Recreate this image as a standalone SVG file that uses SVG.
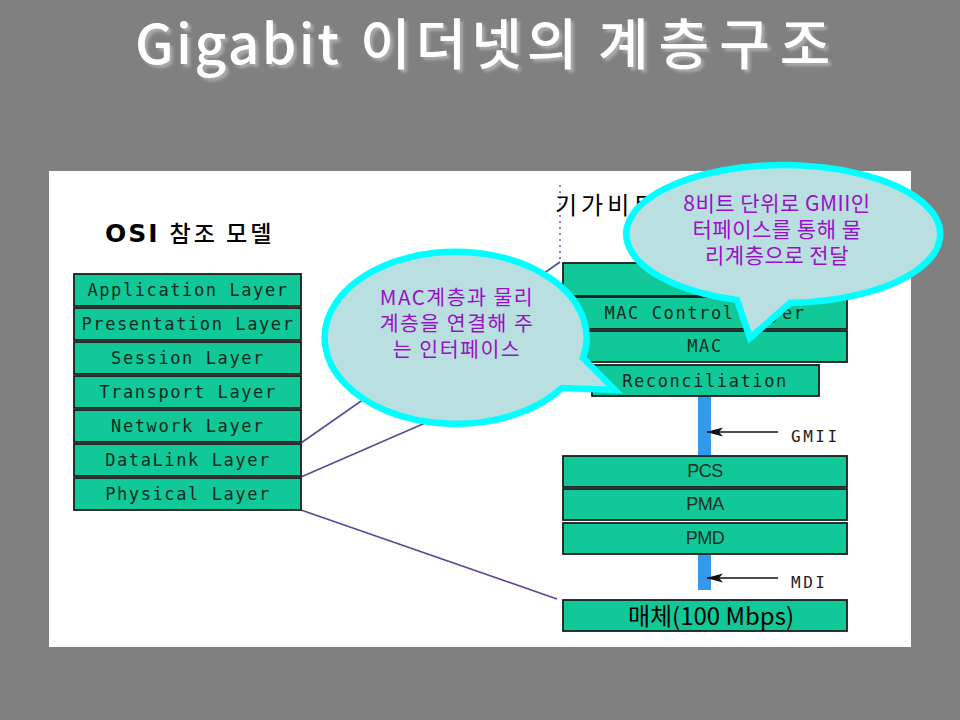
<svg xmlns="http://www.w3.org/2000/svg" width="960" height="720" viewBox="0 0 960 720">
<defs>
<style>
.box{fill:#10c898;stroke:#1c1c1c;stroke-width:1.8}
.lt{font-family:"DejaVu Sans Mono","Liberation Mono",monospace;font-size:17px;fill:#0b2a20;letter-spacing:1.6px;text-anchor:middle}
.pt{font-family:"Liberation Sans",Arial,sans-serif;font-size:18px;fill:#153025;text-anchor:middle;letter-spacing:-0.5px}
.conn{stroke:#4f4f98;stroke-width:1.6;fill:none}
.bub{fill:#b9dfe1;stroke:#00ffff;stroke-width:6.5;stroke-linejoin:miter}
.bt{font-family:"Noto Sans CJK KR","Noto Sans",sans-serif;fill:#9a10c8;text-anchor:middle}
.lab{font-family:"DejaVu Sans Mono","Liberation Mono",monospace;font-size:16px;fill:#222;letter-spacing:2.5px}
.title{font-family:"Noto Sans CJK KR","Noto Sans",sans-serif;font-size:55px;font-weight:500;fill:#ffffff}
</style>
<marker id="ah" markerWidth="18" markerHeight="10" refX="16" refY="5" orient="auto" markerUnits="userSpaceOnUse">
<path d="M17,5 L0,0.5 L4,5 L0,9.5 Z" fill="#111"/>
</marker>
<filter id="sh" x="-5%" y="-10%" width="112%" height="130%">
<feGaussianBlur in="SourceAlpha" stdDeviation="1.6"/>
<feOffset dx="3" dy="3" result="ob"/>
<feFlood flood-color="#aaaaaa"/>
<feComposite in2="ob" operator="in"/>
<feMerge><feMergeNode/><feMergeNode in="SourceGraphic"/></feMerge>
</filter>
</defs>
<rect x="0" y="0" width="960" height="720" fill="#808080"/>
<g id="title">
<text class="title" filter="url(#sh)"><tspan x="135" y="64" letter-spacing="2.5">Gigabit</tspan><tspan x="360" y="64" letter-spacing="5">이더넷의</tspan><tspan x="598" y="64" letter-spacing="10">계층구조</tspan></text>
</g>
<rect id="panel" x="49" y="171" width="862" height="476" fill="#ffffff"/>
<g id="connectors">
<line class="conn" x1="301" y1="443" x2="560" y2="262"/>
<line class="conn" x1="301" y1="477" x2="563" y2="363"/>
<line class="conn" x1="301" y1="510" x2="557" y2="599"/>
<line x1="560" y1="185" x2="560" y2="261" stroke="#6a6a90" stroke-width="1.6" stroke-dasharray="2,4"/>
<rect x="698" y="396" width="13" height="59" fill="#3399ee"/>
<rect x="698" y="555" width="13" height="35" fill="#3399ee"/>
<line x1="778" y1="432" x2="707" y2="432" stroke="#111" stroke-width="1.5" marker-end="url(#ah)"/>
<line x1="778" y1="578" x2="707" y2="578" stroke="#111" stroke-width="1.5" marker-end="url(#ah)"/>
</g>
<g id="osi-title"><text x="105" y="242" fill="#000"><tspan font-family="DejaVu Sans,sans-serif" font-weight="bold" font-size="25" letter-spacing="2">OSI</tspan><tspan dx="10" font-family="Noto Sans CJK KR,sans-serif" font-size="23" font-weight="500" letter-spacing="3">참조 모델</tspan></text></g>
<g id="osi-application"><rect class="box" x="74" y="274" width="227" height="32"/><text class="lt" x="188" y="296">Application Layer</text></g>
<g id="osi-presentation"><rect class="box" x="74" y="308" width="227" height="32"/><text class="lt" x="188" y="330">Presentation Layer</text></g>
<g id="osi-session"><rect class="box" x="74" y="342" width="227" height="32"/><text class="lt" x="188" y="364">Session Layer</text></g>
<g id="osi-transport"><rect class="box" x="74" y="376" width="227" height="32"/><text class="lt" x="188" y="398">Transport Layer</text></g>
<g id="osi-network"><rect class="box" x="74" y="410" width="227" height="32"/><text class="lt" x="188" y="432">Network Layer</text></g>
<g id="osi-datalink"><rect class="box" x="74" y="444" width="227" height="32"/><text class="lt" x="188" y="466">DataLink Layer</text></g>
<g id="osi-physical"><rect class="box" x="74" y="478" width="227" height="32"/><text class="lt" x="188" y="500">Physical Layer</text></g>
<g id="gigabit-title"><text x="555" y="214" font-family="Noto Sans CJK KR,sans-serif" font-size="24" letter-spacing="4" fill="#000">기가비트</text></g>
<g id="upper-layer"><rect class="box" x="563" y="263" width="284" height="33"/></g>
<g id="mac-control"><rect class="box" x="563" y="297" width="284" height="32"/><text class="lt" x="705" y="319">MAC Control Layer</text></g>
<g id="mac"><rect class="box" x="563" y="331" width="284" height="31"/><text class="lt" x="705" y="352">MAC</text></g>
<g id="reconciliation"><rect class="box" x="592" y="365" width="227" height="31"/><text class="lt" x="705" y="387">Reconciliation</text></g>
<g id="gmii"><text class="lab" x="791" y="442">GMII</text></g>
<g id="pcs"><rect class="box" x="563" y="456" width="284" height="31"/><text class="pt" x="705" y="477">PCS</text></g>
<g id="pma"><rect class="box" x="563" y="489" width="284" height="31"/><text class="pt" x="705" y="510">PMA</text></g>
<g id="pmd"><rect class="box" x="563" y="523" width="284" height="31"/><text class="pt" x="705" y="544">PMD</text></g>
<g id="mdi"><text class="lab" x="791" y="588">MDI</text></g>
<g id="medium"><rect class="box" x="563" y="600" width="284" height="31"/><text x="711" y="625" text-anchor="middle" font-family="Noto Sans CJK KR,sans-serif" font-size="24" fill="#000">매체(100 Mbps)</text></g>
<g id="bubble-left">
<path class="bub" d="M583,358 A131,86 0 1 0 562,388 L615,390 Z"/>
<text class="bt" font-size="20.5" letter-spacing="1.5"><tspan x="457" y="305">MAC계층과 물리</tspan><tspan x="457" y="331">계층을 연결해 주</tspan><tspan x="457" y="357">는 인터페이스</tspan></text>
</g>
<g id="bubble-right">
<path class="bub" d="M790,303 A157,69 0 1 0 737,300 L750,338 Z"/>
<text class="bt" font-size="21" letter-spacing="0.5"><tspan x="777" y="211">8비트 단위로 GMII인</tspan><tspan x="777" y="237">터페이스를 통해 물</tspan><tspan x="777" y="263">리계층으로 전달</tspan></text>
</g>
</svg>
